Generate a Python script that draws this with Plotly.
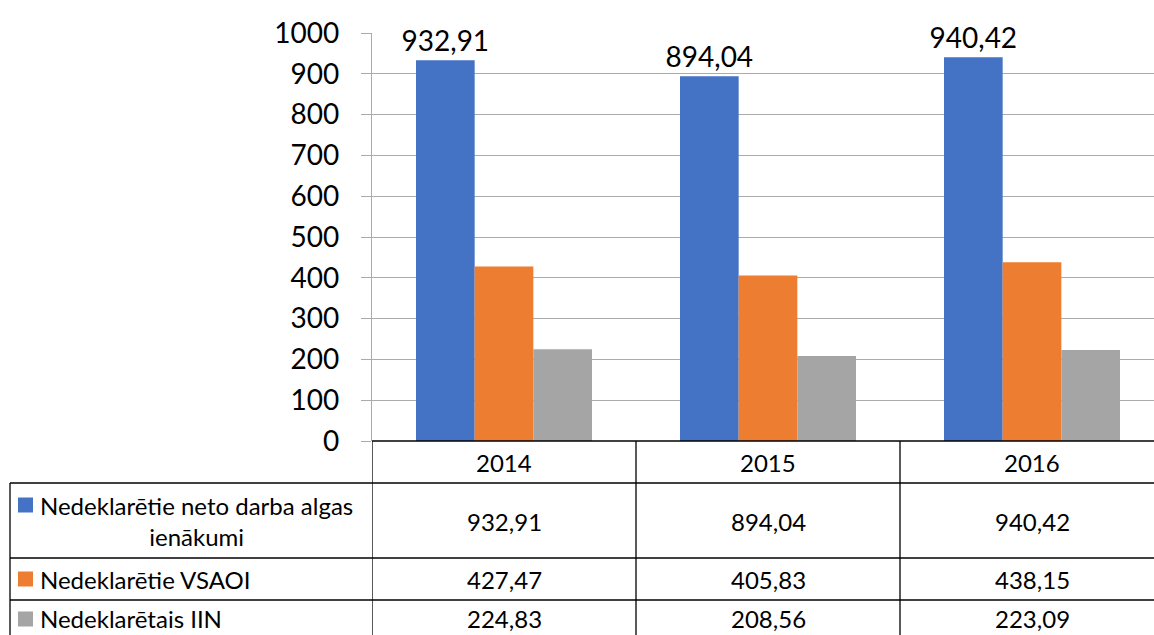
import plotly.graph_objects as go

years = ["2014", "2015", "2016"]
series_names = ["Nedeklarētie neto darba algas<br>ienākumi", "Nedeklarētie VSAOI", "Nedeklarētais IIN"]
neto = [932.91, 894.04, 940.42]
vsaoi = [427.47, 405.83, 438.15]
iin = [224.83, 208.56, 223.09]
colors = ["#4472C4", "#ED7D31", "#A5A5A5"]
yticks = [0, 100, 200, 300, 400, 500, 600, 700, 800, 900, 1000]

W, H = 1154, 635
L, T, B = 372, 33, 441
FONT = "Lato, Carlito, sans-serif"

def py(p):
    return (B - p) / (B - T)

def px(p):
    return (p - L) / (W - L)

def fmt(v):
    return f"{v:.2f}".replace(".", ",")

series = [neto, vsaoi, iin]
fig = go.Figure()
for i, (name, vals, col) in enumerate(zip(series_names, series, colors)):
    kw = {}
    if i == 0:
        kw = dict(text=[fmt(v) for v in vals], textposition="outside",
                  textfont=dict(size=28, color="#000000", family=FONT), cliponaxis=False)
    fig.add_trace(go.Bar(x=years, y=vals, name=name, marker=dict(color=col, line=dict(width=0)), **kw))

cat_w = 264
span = (W - L) / cat_w
fig.update_layout(
    width=W, height=H,
    margin=dict(l=L, r=0, t=T, b=H - B, pad=0),
    barmode="group", bargap=1 - 176 / 264, bargroupgap=0,
    showlegend=False,
    plot_bgcolor="white", paper_bgcolor="white",
    font=dict(family=FONT, color="#000000"),
    xaxis=dict(type="category", range=[-0.5, -0.5 + span], showticklabels=False,
               showgrid=False, zeroline=False, showline=False, ticks=""),
    yaxis=dict(range=[0, 1000], tickvals=yticks, ticktext=[str(v) for v in yticks],
               showgrid=True, gridcolor="#ababab", gridwidth=1.3, zeroline=False,
               showline=True, linecolor="#ababab", linewidth=1.3,
               ticks="outside", ticklen=10, tickcolor="#ababab",
               tickfont=dict(size=28, family=FONT), ticklabelstandoff=16),
)
fig.update_traces(constraintext="none", selector=dict(type="bar"))

shapes = []
black = dict(color="#000000", width=1.3)
shapes.append(dict(type="line", xref="paper", yref="paper", x0=0, x1=1, y0=0, y1=0, line=black))
for p in [483, 558, 600]:
    shapes.append(dict(type="line", xref="paper", yref="paper", x0=px(10), x1=1, y0=py(p), y1=py(p), line=black))
shapes.append(dict(type="line", xref="paper", yref="paper", x0=px(10), x1=px(10), y0=py(483), y1=py(660), line=black))
for i in range(len(years)):
    shapes.append(dict(type="line", xref="x", yref="paper", x0=i - 0.5, x1=i - 0.5, y0=0, y1=py(660), line=black))
for col, p in zip(colors, [505, 579, 619]):
    shapes.append(dict(type="rect", xref="paper", yref="paper", x0=px(18), x1=px(33),
                       y0=py(p - 7.5), y1=py(p + 7.5), fillcolor=col, line=dict(width=0)))
fig.update_layout(shapes=shapes)

ann = []
TF = dict(size=24, family=FONT, color="#000000")
for i, yr in enumerate(years):
    ann.append(dict(x=i, xref="x", y=py(462), yref="paper", text=yr, showarrow=False,
                    xanchor="center", yanchor="middle", font=TF))
row_centers = [521, 579, 618]
for name, vals, rc in zip(series_names, series, row_centers):
    ann.append(dict(x=px(38), xref="paper", y=py(rc), yref="paper", text=name, showarrow=False,
                    xanchor="left", yanchor="middle", align="center", font=TF))
    for i, v in enumerate(vals):
        ann.append(dict(x=i, xref="x", y=py(rc), yref="paper", text=fmt(v), showarrow=False,
                        xanchor="center", yanchor="middle", font=TF))
fig.update_layout(annotations=ann)

fig.write_html("out.html", config={"displayModeBar": False},
               post_script="document.body.style.margin='0';document.body.style.overflow='hidden';")
